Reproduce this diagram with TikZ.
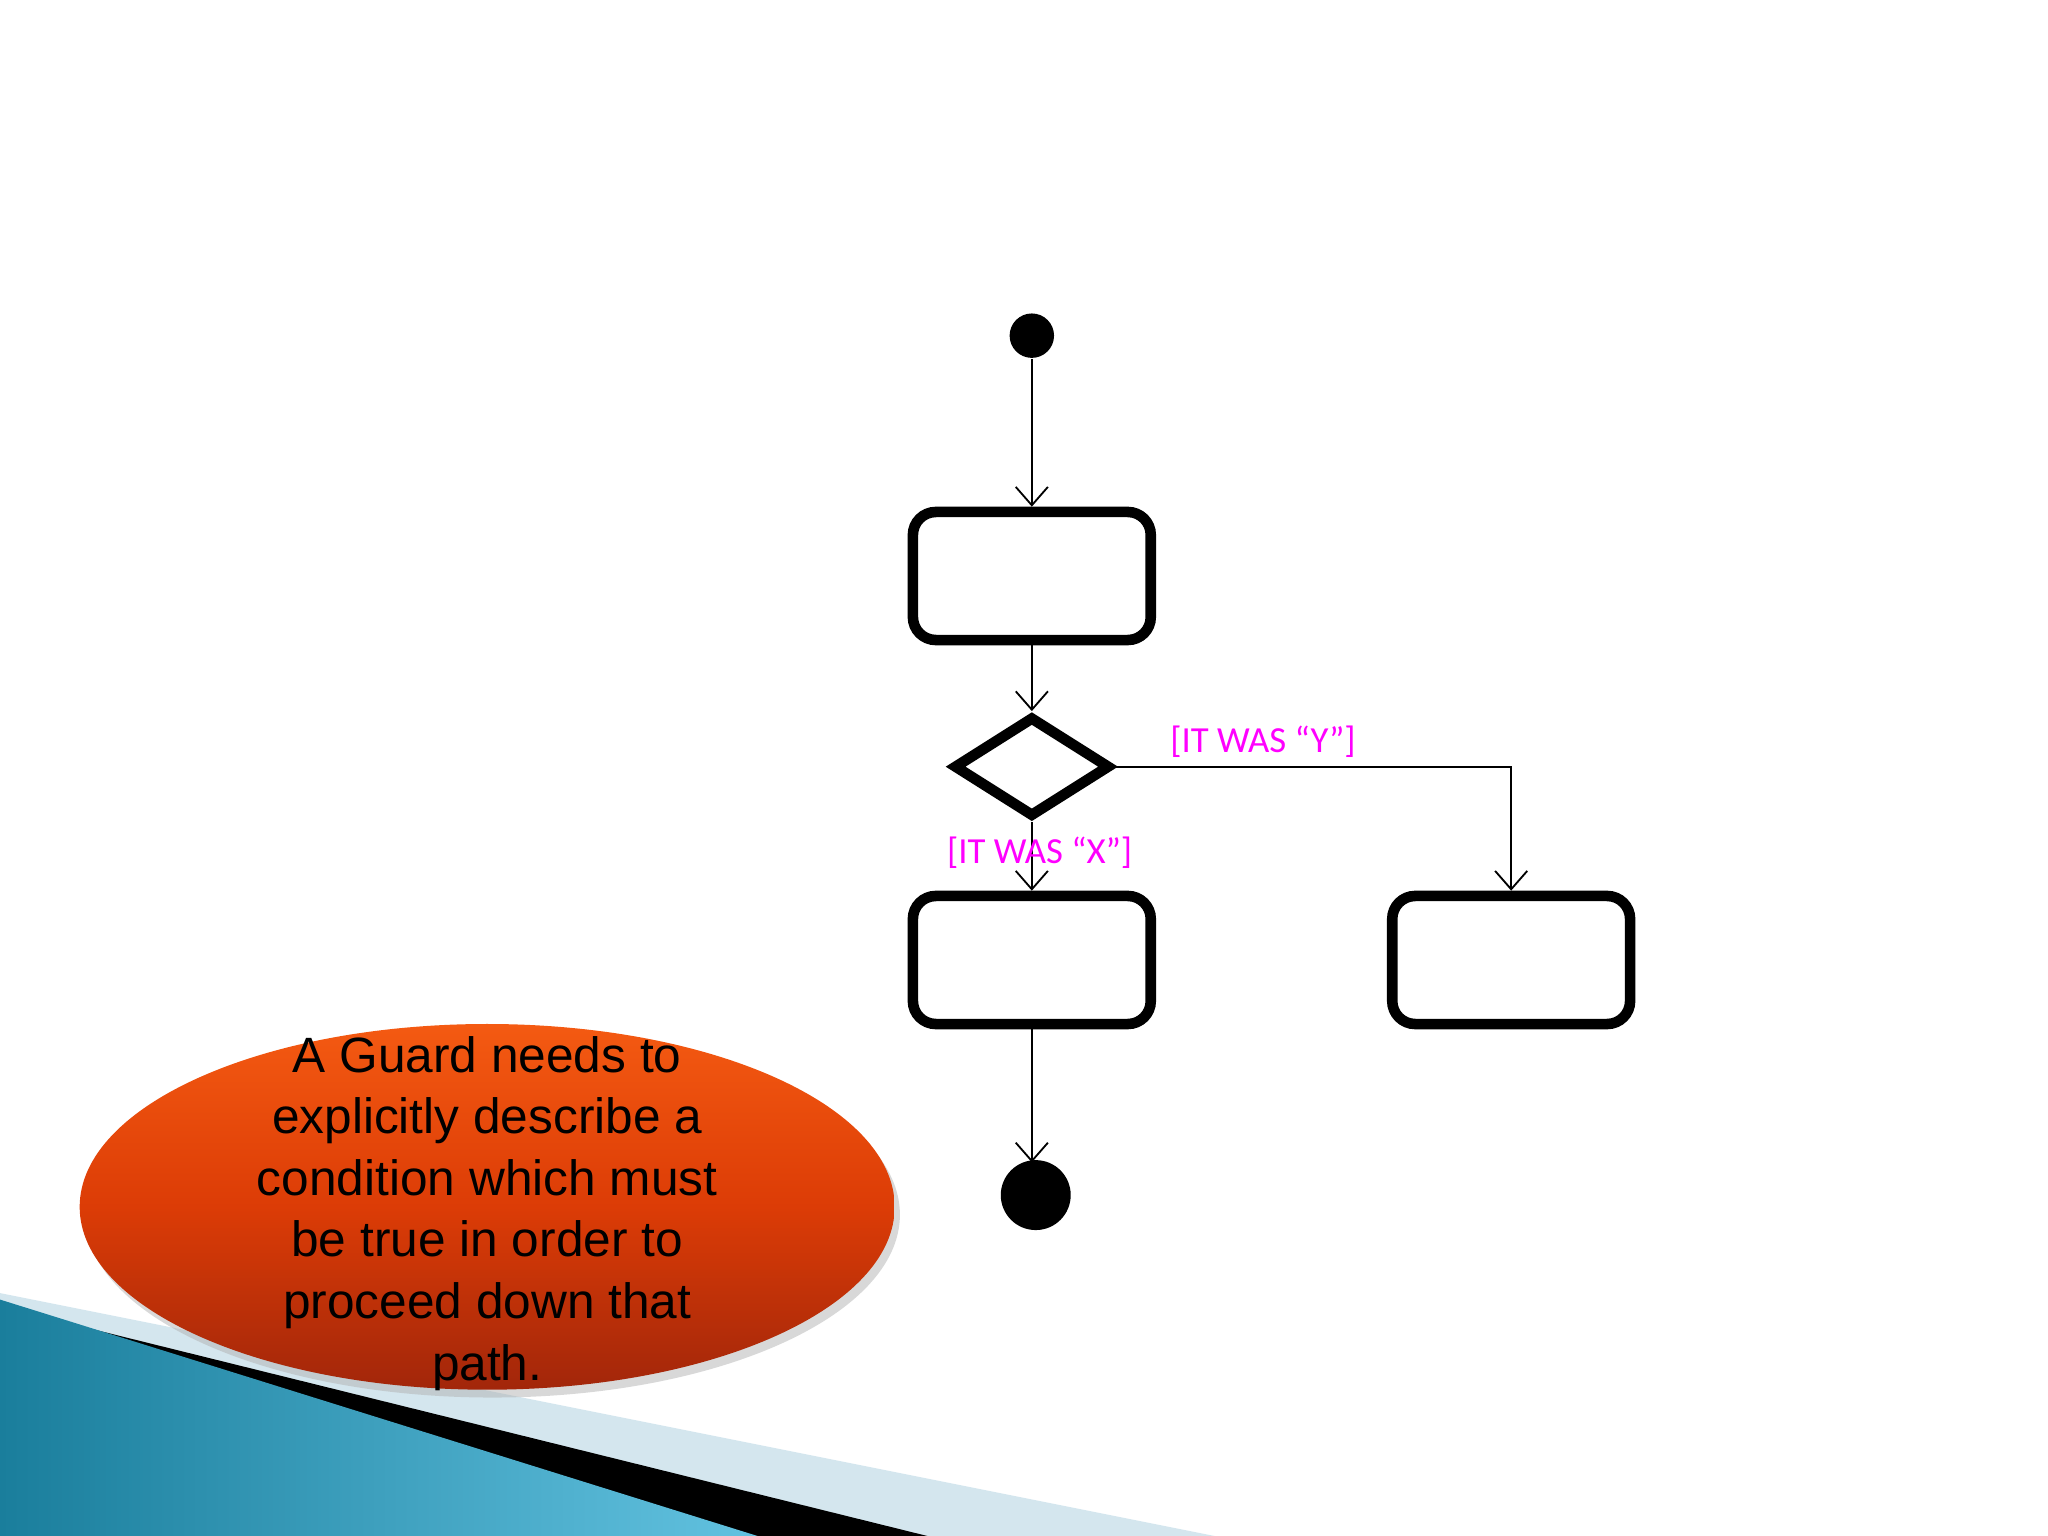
\documentclass[tikz,border=0pt]{standalone}
\usepackage{fontspec}
\setmainfont{Liberation Sans}
\newfontfamily\calib{Carlito}
\usetikzlibrary{shapes.geometric,arrows.meta}
\definecolor{ortop}{HTML}{F45A12}
\definecolor{ormid}{HTML}{DC3C06}
\definecolor{orbot}{HTML}{A2260A}
\definecolor{tealdk}{HTML}{1A7E9C}
\definecolor{teallt}{HTML}{62C2E0}
\definecolor{paleblue}{HTML}{D4E6EE}
\definecolor{guardmag}{HTML}{FF00FF}
\begin{document}
\begin{tikzpicture}[x=0.01cm,y=-0.01cm,
  act/.style={draw,line width=2.3pt,rounded corners=5pt,minimum width=1.82cm,minimum height=0.98cm},
  conn/.style={line width=0.4pt,-{Straight Barb[length=4pt,width=7pt]}},
  guard/.style={text=guardmag,font=\calib\fontsize{8pt}{9pt}\selectfont}]
\useasboundingbox (0,0) rectangle (1568,1176);
% bottom-left decoration
\fill[paleblue] (0,990) -- (930,1176) -- (0,1176) -- cycle;
\fill[black] (40,1010) -- (710,1176) -- (570,1176) -- cycle;
\shade[left color=tealdk, right color=teallt] (0,995) -- (580,1176) -- (0,1176) -- cycle;
% diagram
\node[circle,fill=black,minimum size=0.34cm,inner sep=0] (start) at (790,257) {};
\node[act] (a1) at (790,441) {};
\node[diamond,draw,line width=2.3pt,minimum width=1.2cm,minimum height=0.77cm,inner sep=0,aspect=1.55] (d) at (790,587) {};
\node[act] (a2) at (790,735) {};
\node[act] (a3) at (1157,735) {};
\node[circle,fill=black,draw=black,line width=1pt,minimum size=0.5cm,inner sep=0] (end) at (793,915) {};
\coordinate (endtop) at (790,890);
\draw[conn] (start) -- (a1);
\draw[conn] (a1) -- (d);
\draw[conn] (d) -- (a2);
\draw[conn] (d.east) -| (a3.north);
\draw[conn] (a2) -- (endtop);
\node[guard] (gy) at (967,568) {[IT WAS “Y”]};
\node[guard] (gx) at (796,653) {[IT WAS “X”]};
% callout ellipse
\fill[black!30,opacity=0.5] (377,930) ellipse [x radius=312,y radius=140];
\shade[top color=ortop, bottom color=orbot, middle color=ormid] (373,924) ellipse [x radius=312,y radius=140];
\node[align=center,font=\fontsize{10.8pt}{13.4pt}\selectfont] (txt) at (373,929) {A Guard needs to\\explicitly describe a\\condition which must\\be true in order to\\proceed down that\\path.};
\end{tikzpicture}
\end{document}
